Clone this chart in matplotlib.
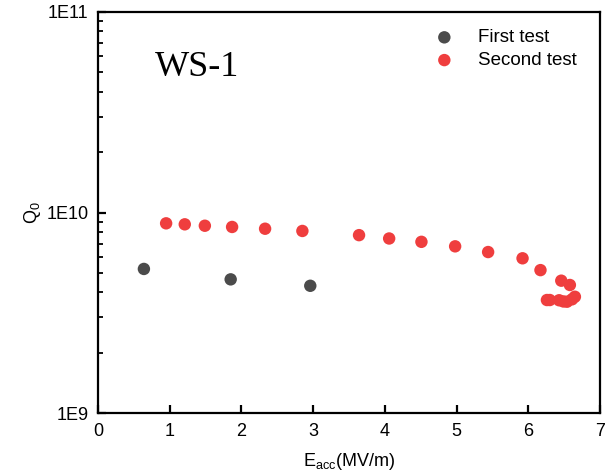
import matplotlib
matplotlib.use("Agg")
import matplotlib.pyplot as plt
from matplotlib.ticker import LogLocator, FixedLocator, NullFormatter

plt.rcParams['font.family'] = ['Liberation Sans', 'DejaVu Sans']
plt.rcParams['mathtext.default'] = 'regular'

first_x = [0.64, 1.85, 2.96]
first_q = [5.23e9, 4.64e9, 4.31e9]

second_x = [0.95, 1.21, 1.49, 1.87, 2.33, 2.85, 3.64, 4.06, 4.51, 4.98, 5.44, 5.92,
            6.17, 6.46, 6.58, 6.26, 6.30, 6.43, 6.49, 6.54, 6.61, 6.65]
second_q = [8.83e9, 8.73e9, 8.59e9, 8.47e9, 8.30e9, 8.09e9, 7.71e9, 7.42e9, 7.14e9,
            6.78e9, 6.35e9, 5.91e9, 5.16e9, 4.57e9, 4.35e9, 3.66e9, 3.66e9, 3.65e9,
            3.60e9, 3.59e9, 3.69e9, 3.80e9]

x_ticks = [0, 1, 2, 3, 4, 5, 6, 7]
y_ticks = [1e9, 1e10, 1e11]
y_tick_labels = ['1E9', '1E10', '1E11']

fig = plt.figure(figsize=(6.14, 4.76), dpi=100)
ax = fig.add_axes([98/614, 1-413/476, (600-98)/614, (413-12)/476])

ax.scatter(first_x, first_q, s=80, color='#4b4b4b', edgecolors='none', label='First test', zorder=3)
ax.scatter(second_x, second_q, s=80, color='#ef3e3e', edgecolors='none', label='Second test', zorder=3)

ax.set_yscale('log')
ax.set_xlim(0, 7)
ax.set_ylim(1e9, 1e11)
ax.xaxis.set_major_locator(FixedLocator(x_ticks))
ax.set_xticklabels([str(t) for t in x_ticks])
ax.yaxis.set_major_locator(FixedLocator(y_ticks))
ax.set_yticklabels(y_tick_labels)
ax.yaxis.set_minor_locator(LogLocator(base=10, subs=range(2, 10)))
ax.yaxis.set_minor_formatter(NullFormatter())

for sp in ax.spines.values():
    sp.set_linewidth(1.6)

ax.tick_params(axis='both', which='major', direction='in', length=6, width=1.6,
               labelsize=13, top=False, right=False)
ax.tick_params(axis='y', which='minor', direction='in', length=3.5, width=1.3, right=False)
ax.tick_params(axis='x', which='major', pad=7)
ax.tick_params(axis='y', which='major', pad=7)

ax.set_xlabel('E$_{acc}$(MV/m)', fontsize=13, labelpad=8)
ax.set_ylabel('Q$_0$', fontsize=13, labelpad=2)

ax.text(0.113, 0.84, 'WS-1', transform=ax.transAxes, fontsize=26,
        family='Liberation Serif', ha='left', va='baseline')

leg = ax.legend(loc='upper right', frameon=False, fontsize=13.5, handletextpad=0.8,
                bbox_to_anchor=(0.98, 0.99), borderaxespad=0.3, labelspacing=0.3,
                markerscale=1.0)

fig.savefig('out.png', dpi=100)
